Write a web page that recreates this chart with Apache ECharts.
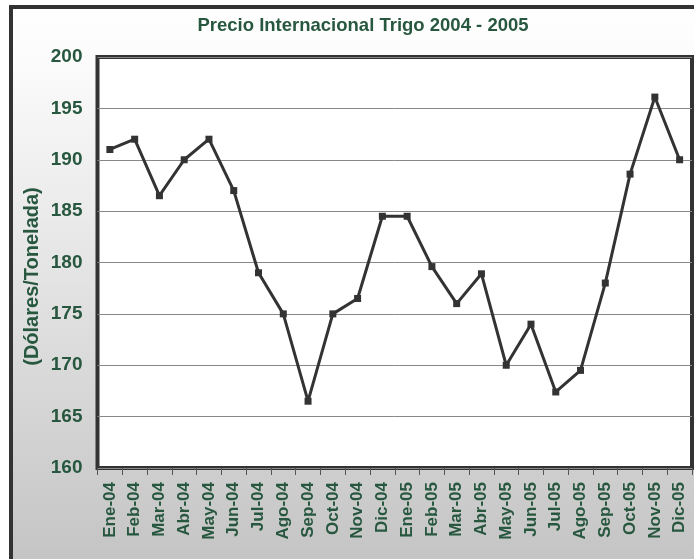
<!DOCTYPE html>
<html>
<head>
<meta charset="utf-8">
<script src="https://cdn.jsdelivr.net/npm/echarts@6/dist/echarts.min.js"></script>
<style>html,body{margin:0;padding:0;background:#fff;}#c{width:694px;height:559px;}</style>
</head>
<body>
<div id="c"></div>
<script>
const titleText = 'Precio Internacional Trigo 2004 - 2005';
const yAxisName = '(Dólares/Tonelada)';
const months = ['Ene-04','Feb-04','Mar-04','Abr-04','May-04','Jun-04','Jul-04','Ago-04','Sep-04','Oct-04','Nov-04','Dic-04',
                'Ene-05','Feb-05','Mar-05','Abr-05','May-05','Jun-05','Jul-05','Ago-05','Sep-05','Oct-05','Nov-05','Dic-05'];
const prices = [191, 192, 186.5, 190, 192, 187, 179, 175, 166.5, 175, 176.5, 184.5,
                184.5, 179.6, 176, 178.9, 170, 174, 167.4, 169.5, 178, 188.6, 196.1, 190];
const yMin = 160, yMax = 200, yStep = 5;

const green = '#27573f';
const font = 'Liberation Sans, Arial, sans-serif';
const chart = echarts.init(document.getElementById('c'));
chart.setOption({
  animation: false,
  graphic: [{
    type: 'rect', z: -10, silent: true,
    shape: { x: 11, y: 7, width: 700, height: 600 },
    style: {
      stroke: '#333', lineWidth: 4,
      fill: new echarts.graphic.LinearGradient(0, 0, 0, 1, [
        { offset: 0, color: '#ffffff' },
        { offset: 0.08, color: '#fcfcfc' },
        { offset: 1, color: '#bfbfbf' }
      ])
    }
  }],
  title: {
    text: titleText, left: 358, top: 11, textAlign: 'center',
    textStyle: { fontFamily: font, fontWeight: 'bold', fontSize: 18.5, color: green }
  },
  grid: {
    left: 97.5, right: 2, top: 57, bottom: 91,
    show: true, backgroundColor: '#fff', borderColor: '#333', borderWidth: 4, z: 0
  },
  xAxis: {
    type: 'category', data: months, boundaryGap: true,
    axisLine: { show: false },
    axisTick: { show: true, length: 7, lineStyle: { color: '#555', width: 1 } },
    axisLabel: { rotate: 90, margin: 14, fontFamily: font, fontWeight: 'bold', fontSize: 17, color: green, interval: 0 }
  },
  yAxis: {
    type: 'value', min: yMin, max: yMax, interval: yStep,
    name: yAxisName, nameLocation: 'middle', nameGap: 55, nameRotate: 90, nameMoveOverlap: false,
    nameTextStyle: { fontFamily: font, fontWeight: 'bold', fontSize: 20, color: green, padding: [0, 28, 0, 0] },
    axisLine: { show: false }, axisTick: { show: false },
    axisLabel: { margin: 15, fontFamily: font, fontWeight: 'bold', fontSize: 19, color: green },
    splitLine: { show: true, lineStyle: { color: '#888', width: 1 } }
  },
  series: [{
    type: 'line', data: prices,
    lineStyle: { color: '#333', width: 3 },
    itemStyle: { color: '#333' },
    symbol: 'rect', symbolSize: 7, showSymbol: true, z: 5
  }]
});
</script>
</body>
</html>
